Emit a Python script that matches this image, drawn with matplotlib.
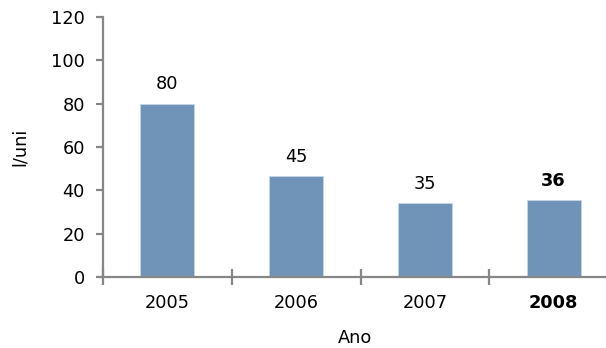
import matplotlib
matplotlib.use("Agg")
import matplotlib.pyplot as plt

years = ["2005", "2006", "2007", "2008"]
values = [80, 46.5, 34, 35.5]
value_labels = ["80", "45", "35", "36"]
bold_flags = [False, False, False, True]

plt.rcParams['font.family'] = ['DejaVu Sans']
FS = 12.8
fig = plt.figure(figsize=(6.06, 3.48), dpi=100)
ax = fig.add_axes([103/606, (348-277)/348, 515/606, 260/348])

x = list(range(len(years)))
bars = ax.bar(x, values, width=0.42, color='#7094B8', edgecolor='#C5D5E6', linewidth=0.6, zorder=2)

for xi, v, lab, b in zip(x, values, value_labels, bold_flags):
    ax.annotate(lab, (xi, v), xytext=(0, 7.5), textcoords='offset points',
                ha='center', va='bottom', fontsize=FS, color='#000000',
                fontweight='bold' if b else 'normal')

ax.set_xlim(-0.5, 3.5)
ax.set_ylim(0, 120)
ax.set_yticks([0, 20, 40, 60, 80, 100, 120])

ax.set_xticks(x)
ax.set_xticklabels(years)
for lbl, b in zip(ax.get_xticklabels(), bold_flags):
    if b:
        lbl.set_fontweight('bold')
ax.set_xticks([-0.5, 0.5, 1.5, 2.5, 3.5], minor=True)

spine_col = '#868686'
for s in ['top', 'right']:
    ax.spines[s].set_visible(False)
for s in ['left', 'bottom']:
    ax.spines[s].set_color(spine_col)
    ax.spines[s].set_linewidth(1.6)

ax.tick_params(axis='x', which='major', length=0, pad=12, labelsize=FS)
ax.tick_params(axis='x', which='minor', direction='inout', length=11.5, width=1.6, color=spine_col)
ax.tick_params(axis='y', which='major', direction='out', length=5, width=1.6, color=spine_col, pad=8, labelsize=FS)

ax.set_ylabel('l/uni', fontsize=FS, va='center')
ax.yaxis.set_label_coords(-0.161, 0.5)
ax.set_xlabel('Ano', fontsize=FS, va='center')
ax.xaxis.set_label_coords(0.489, -0.235)

fig.savefig('out.png', dpi=100)
